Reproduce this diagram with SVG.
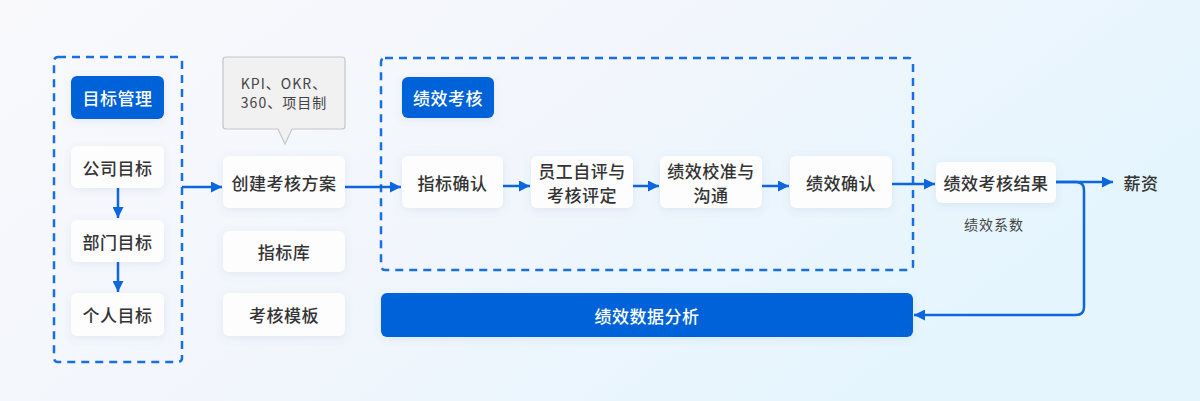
<svg xmlns="http://www.w3.org/2000/svg" width="1200" height="401" viewBox="0 0 1200 401">
<defs>
<linearGradient id="bg" x1="0" y1="0" x2="1" y2="0.45">
<stop offset="0" stop-color="#f9f9fc"/>
<stop offset="0.5" stop-color="#f2f6fc"/>
<stop offset="1" stop-color="#e4f5fe"/>
</linearGradient>
<filter id="sh" x="-20%" y="-30%" width="140%" height="160%">
<feDropShadow dx="0" dy="2" stdDeviation="4" flood-color="#5a7aa8" flood-opacity="0.12"/>
</filter>
<marker id="ah" viewBox="0 0 10 10" markerWidth="11" markerHeight="11" refX="10" refY="5" orient="auto" markerUnits="userSpaceOnUse">
<path d="M0,0 L10,5 L0,10 z" fill="#0d66db"/>
</marker>
<style>
.dash{fill:none;stroke:#1a6fe0;stroke-width:2.5;stroke-dasharray:8 6}
.node{fill:#fdfdfe;filter:url(#sh)}
.blue{fill:#0062d8;filter:url(#sh)}
.t{font-family:"Noto Sans CJK SC","Noto Sans",sans-serif;font-size:17px;font-weight:500;fill:#333;text-anchor:middle;dominant-baseline:central;letter-spacing:0.5px}
.tw{fill:#fff}
.small{font-family:"Noto Sans CJK SC","Noto Sans",sans-serif;font-size:14px;fill:#444;text-anchor:middle;dominant-baseline:central;letter-spacing:1px}
.c{fill:none;stroke:#0d66db;stroke-width:2.5}
</style>
</defs>
<rect width="1200" height="401" fill="url(#bg)"/>

<rect class="dash" x="54" y="57" width="128" height="305" rx="4"/>
<rect class="dash" x="381" y="58" width="532" height="212" rx="4"/>

<g id="mgmt"><rect class="blue" x="71" y="76" width="93" height="43" rx="6"/><text class="t tw" x="117.5" y="97.5">目标管理</text></g>
<g id="company"><rect class="node" x="71" y="146" width="93" height="42" rx="6"/><text class="t" x="117.5" y="167">公司目标</text></g>
<g id="dept"><rect class="node" x="71" y="220" width="93" height="42" rx="6"/><text class="t" x="117.5" y="241">部门目标</text></g>
<g id="personal"><rect class="node" x="71" y="293" width="93" height="43" rx="6"/><text class="t" x="117.5" y="314.5">个人目标</text></g>

<g id="callout">
<path d="M226,57 H342 Q345,57 345,60 V126 Q345,129 342,129 H292 L285,144 L278,129 H226 Q223,129 223,126 V60 Q223,57 226,57 Z" fill="#f1f1f2" stroke="#c6c6c8" stroke-width="1.2"/>
<text class="small" x="284" y="83">KPI、OKR、</text>
<text class="small" x="284" y="102">360、项目制</text>
</g>
<g id="create"><rect class="node" x="223" y="156" width="122" height="52" rx="6"/><text class="t" x="284" y="182">创建考核方案</text></g>
<g id="lib"><rect class="node" x="223" y="231" width="122" height="41" rx="6"/><text class="t" x="284" y="251.5">指标库</text></g>
<g id="tpl"><rect class="node" x="223" y="293" width="122" height="43" rx="6"/><text class="t" x="284" y="314.5">考核模板</text></g>

<g id="perf"><rect class="blue" x="402" y="77" width="92" height="41" rx="6"/><text class="t tw" x="448" y="97.5">绩效考核</text></g>
<g id="n1"><rect class="node" x="402" y="156" width="101" height="52" rx="6"/><text class="t" x="452.5" y="182">指标确认</text></g>
<g id="n2"><rect class="node" x="531" y="156" width="102" height="52" rx="6"/><text class="t" x="582" y="170">员工自评与</text><text class="t" x="582" y="194">考核评定</text></g>
<g id="n3"><rect class="node" x="660" y="156" width="102" height="52" rx="6"/><text class="t" x="711" y="170">绩效校准与</text><text class="t" x="711" y="194">沟通</text></g>
<g id="n4"><rect class="node" x="790" y="156" width="102" height="52" rx="6"/><text class="t" x="841" y="182">绩效确认</text></g>

<g id="result"><rect class="node" x="936" y="162" width="120" height="41" rx="6"/><text class="t" x="996" y="182.5">绩效考核结果</text></g>
<g id="coef"><text class="small" x="994" y="224" fill="#555">绩效系数</text></g>
<g id="salary"><text class="t" x="1141" y="182">薪资</text></g>
<g id="analysis"><rect class="blue" x="381" y="293" width="532" height="44" rx="6"/><text class="t tw" x="647" y="315">绩效数据分析</text></g>

<g id="connectors">
<path class="c" d="M118,188 V218" marker-end="url(#ah)"/>
<path class="c" d="M118,262 V292" marker-end="url(#ah)"/>
<path class="c" d="M182,187 H222" marker-end="url(#ah)"/>
<path class="c" d="M345,187 H401" marker-end="url(#ah)"/>
<path class="c" d="M503,186 H530" marker-end="url(#ah)"/>
<path class="c" d="M633,186 H659" marker-end="url(#ah)"/>
<path class="c" d="M762,186 H789" marker-end="url(#ah)"/>
<path class="c" d="M892,184 H935" marker-end="url(#ah)"/>
<path class="c" d="M1056,182 H1113" marker-end="url(#ah)"/>
<path class="c" d="M1056,182 H1076 Q1084,182 1084,190 V307 Q1084,315 1076,315 H914" marker-end="url(#ah)"/>
</g>
</svg>
